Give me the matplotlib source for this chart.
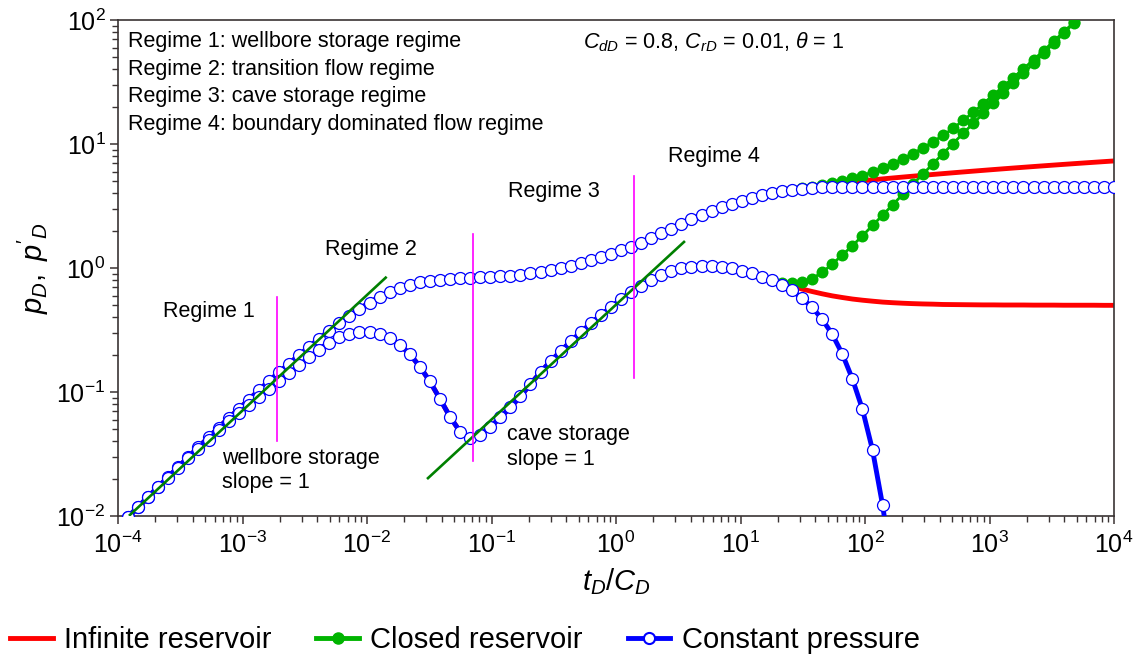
import numpy as np
import matplotlib
matplotlib.use("Agg")
import matplotlib.pyplot as plt
from matplotlib.lines import Line2D
from matplotlib.ticker import NullFormatter, LogLocator

# ---------------- data ----------------
# 100 log-spaced sample times t_D/C_D between 1e-4 and 1e4
t_exp_min, t_exp_max, n_samples = -4, 4, 100

# p_D shared by all three reservoirs (samples 0..66)
pd_shared = [0.00813, 0.00982, 0.01186, 0.01429, 0.01718, 0.0207, 0.02489, 0.02992,
             0.03589, 0.04305, 0.05152, 0.06166, 0.07278, 0.0867, 0.103, 0.1222,
             0.1439, 0.169, 0.1982, 0.2312, 0.2692, 0.3126, 0.3606, 0.4121,
             0.4677, 0.526, 0.5848, 0.6412, 0.6918, 0.7345, 0.7674, 0.7907,
             0.8072, 0.8204, 0.8299, 0.8375, 0.8433, 0.8492, 0.857, 0.867,
             0.8831, 0.9036, 0.9311, 0.9638, 1.0023, 1.0471, 1.099, 1.1588,
             1.2274, 1.3062, 1.39, 1.4859, 1.6032, 1.7418, 1.9011, 2.0749,
             2.2646, 2.4717, 2.6792, 2.884, 3.0903, 3.2961, 3.4914, 3.6728,
             3.8459, 3.9994, 4.14]
# p_D late-time branches (samples 67..)
pd_infinite_late = [4.27, 4.40, 4.52, 4.64, 4.75, 4.86, 4.96, 5.05, 5.14, 5.23, 5.32,
                    5.41, 5.50, 5.59, 5.68, 5.77, 5.86, 5.95, 6.04, 6.13, 6.22, 6.31,
                    6.40, 6.49, 6.58, 6.67, 6.76, 6.85, 6.94, 7.03, 7.12, 7.21, 7.30]
pd_closed_late = [4.27, 4.40, 4.53, 4.67, 4.84, 5.05, 5.27, 5.57, 5.96, 6.43, 6.95,
                  7.62, 8.38, 9.29, 10.40, 11.75, 13.34, 15.49, 17.99, 21.13, 24.83,
                  29.17, 34.28, 40.46, 47.75, 56.49, 67.30, 80.17, 95.50, 114.0, 136.5]
pd_constant_late = [4.25, 4.37, 4.45, 4.50, 4.52] + [4.53] * 28

# p'_D shared by all three reservoirs (samples 0..65)
dpd_shared = [0.00813, 0.0098, 0.01178, 0.01416, 0.01698, 0.02037, 0.02438, 0.02911,
              0.03467, 0.0413, 0.04909, 0.05808, 0.06761, 0.0787, 0.0912, 0.1057,
              0.1222, 0.1413, 0.1637, 0.1901, 0.2178, 0.2483, 0.2754, 0.2951,
              0.3055, 0.3055, 0.2951, 0.2716, 0.241, 0.2023, 0.1603, 0.1216,
              0.0881, 0.0631, 0.0479, 0.0429, 0.0452, 0.0519, 0.0624, 0.075,
              0.0923, 0.1156, 0.1445, 0.177, 0.2128, 0.2559, 0.3027, 0.3573,
              0.4169, 0.4808, 0.5598, 0.6383, 0.7211, 0.798, 0.871, 0.9397,
              0.9908, 1.0257, 1.0447, 1.0471, 1.028, 0.9954, 0.9506, 0.9036,
              0.8511, 0.7998]
# p'_D late-time branches (samples 66..)
dpd_infinite_late = [0.752, 0.716, 0.676, 0.646, 0.619, 0.596, 0.578, 0.562, 0.550,
                     0.540, 0.531, 0.525, 0.520, 0.516, 0.513, 0.511, 0.508, 0.507,
                     0.506, 0.505, 0.504, 0.504, 0.503, 0.503, 0.503, 0.502, 0.502,
                     0.502, 0.501, 0.501, 0.501, 0.501, 0.500, 0.500]
dpd_closed_late = [0.755, 0.755, 0.7727, 0.8222, 0.9226, 1.0765, 1.2735, 1.5136,
                   1.8197, 2.2029, 2.6669, 3.2359, 3.9174, 4.7315, 5.7148, 6.9183,
                   8.356, 10.093, 12.162, 14.655, 17.62, 21.232, 25.586, 30.832,
                   37.154, 44.668, 53.827, 64.863, 78.163, 94.189, 113.24]
dpd_constant_late = [0.7295, 0.6607, 0.5689, 0.4819, 0.3855, 0.2917, 0.2023,
                     0.1274, 0.0724, 0.034, 0.0122, 0.0035]

# axis ticks
x_major_ticks = [1e-4, 1e-3, 1e-2, 1e-1, 1e0, 1e1, 1e2, 1e3, 1e4]
y_major_ticks = [1e-2, 1e-1, 1e0, 1e1, 1e2]

# guide lines
slope_line_1_x = [1.247e-4, 0.01413]
slope_line_1_y = [0.0102, 0.836]
slope_line_2_x = [0.0309, 3.516]
slope_line_2_y = [0.0202, 1.622]
regime_bound_x = [0.0019, 0.0706, 1.40]
regime_bound_ylo = [0.040, 0.028, 0.13]
regime_bound_yhi = [0.58, 1.88, 5.5]

legend_labels = ["Infinite reservoir", "Closed reservoir", "Constant pressure"]

# ---------------- styling ----------------
plt.rcParams['font.family'] = ['Liberation Sans', 'DejaVu Sans']
plt.rcParams['mathtext.fontset'] = 'custom'
plt.rcParams['mathtext.rm'] = 'Liberation Sans'
plt.rcParams['mathtext.it'] = 'Liberation Sans:italic'
plt.rcParams['mathtext.bf'] = 'Liberation Sans:bold'

RED = '#ff0000'
GREEN = '#00b400'
BLUE = '#0000ff'
SPINE = '#3a3333'

t = np.logspace(t_exp_min, t_exp_max, n_samples)

pd_inf = pd_shared + pd_infinite_late
pd_clo = pd_shared + pd_closed_late
pd_con = pd_shared + pd_constant_late
dpd_inf = dpd_shared + dpd_infinite_late
dpd_clo = dpd_shared + dpd_closed_late
dpd_con = dpd_shared + dpd_constant_late

fig = plt.figure(figsize=(11.42, 6.64), dpi=100)
ax = fig.add_axes([118 / 1142, 1 - 516 / 664, 996 / 1142, 496 / 664])

lw = 3.5
# infinite reservoir
for y in (pd_inf, dpd_inf):
    ax.plot(t[:len(y)], y, color=RED, lw=lw, solid_capstyle='butt', zorder=2)
# closed reservoir
for y in (pd_clo, dpd_clo):
    ax.plot(t[:len(y)], y, color=GREEN, lw=2.0, marker='o', ms=8.6,
            mfc=GREEN, mec=GREEN, mew=0, zorder=3)
# constant pressure
for y in (pd_con, dpd_con):
    ax.plot(t[:len(y)], y, color=BLUE, lw=lw, marker='o', ms=8.6,
            mfc='white', mec=BLUE, mew=0.9, zorder=4)

# slope lines and regime boundaries
ax.plot(slope_line_1_x, slope_line_1_y, color='#008000', lw=1.9, zorder=5)
ax.plot(slope_line_2_x, slope_line_2_y, color='#008000', lw=1.9, zorder=5)
for xb, ylo, yhi in zip(regime_bound_x, regime_bound_ylo, regime_bound_yhi):
    ax.plot([xb, xb], [ylo, yhi], color='#ff00ff', lw=1.2, zorder=5)

ax.set_xscale('log')
ax.set_yscale('log')
ax.set_xticks(x_major_ticks)
ax.set_yticks(y_major_ticks)
ax.xaxis.set_minor_locator(LogLocator(base=10, subs=np.arange(2, 10), numticks=20))
ax.yaxis.set_minor_locator(LogLocator(base=10, subs=np.arange(2, 10), numticks=20))
ax.xaxis.set_minor_formatter(NullFormatter())
ax.yaxis.set_minor_formatter(NullFormatter())
ax.set_xlim(1e-4, 1e4)
ax.set_ylim(1e-2, 1e2)

for s in ax.spines.values():
    s.set_color(SPINE)
    s.set_linewidth(1.2)
ax.tick_params(which='both', direction='out', color=SPINE, top=False, right=False)
ax.tick_params(which='major', length=6, width=1.1, labelsize=18, pad=3)
ax.tick_params(which='minor', length=4, width=1.0)
ax.tick_params(axis='x', which='major', pad=5)

ax.set_xlabel(r'$t_D/C_D$', fontsize=21, labelpad=6)
ax.set_ylabel(r"$p_D,\ p'_D$", fontsize=21, labelpad=4)

# text annotations
tf = dict(transform=ax.transAxes, fontsize=15.5, va='center', ha='left')
ax.text(0.010, 0.956, 'Regime 1: wellbore storage regime', **tf)
ax.text(0.010, 0.901, 'Regime 2: transition flow regime', **tf)
ax.text(0.010, 0.845, 'Regime 3: cave storage regime', **tf)
ax.text(0.010, 0.790, 'Regime 4: boundary dominated flow regime', **tf)
ax.text(0.467, 0.956, r'$C_{dD}$ = 0.8, $C_{rD}$ = 0.01, $\theta$ = 1', **tf)
ax.text(0.045, 0.413, 'Regime 1', **tf)
ax.text(0.208, 0.538, 'Regime 2', **tf)
ax.text(0.392, 0.655, 'Regime 3', **tf)
ax.text(0.552, 0.724, 'Regime 4', **tf)
ax.text(0.104, 0.092, 'wellbore storage\nslope = 1', linespacing=1.2, **tf)
ax.text(0.391, 0.139, 'cave storage\nslope = 1', linespacing=1.2, **tf)

handles = [
    Line2D([], [], color=RED, lw=lw),
    Line2D([], [], color=GREEN, lw=lw, marker='o', ms=8, mfc=GREEN, mec=GREEN),
    Line2D([], [], color=BLUE, lw=lw, marker='o', ms=8, mfc='white', mec=BLUE, mew=1.5),
]
fig.legend(handles, legend_labels, loc='center left',
           bbox_to_anchor=(10 / 1142, 1 - 640 / 664), ncol=3, frameon=False,
           fontsize=21, handlelength=1.46, handletextpad=0.39,
           columnspacing=1.54, borderpad=0, borderaxespad=0)

fig.savefig('out.png', dpi=100)
